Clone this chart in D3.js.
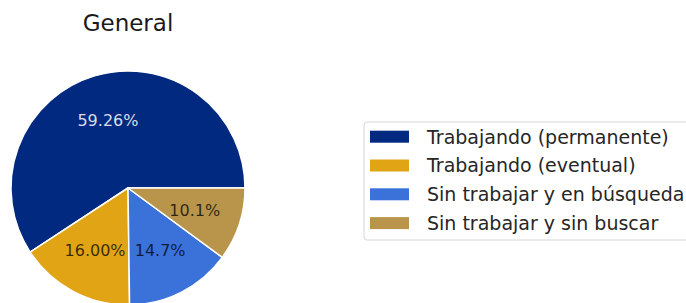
<!DOCTYPE html>
<html>
<head>
<meta charset="utf-8">
<script src="https://cdn.jsdelivr.net/npm/d3@7"></script>
<style>
  body { margin: 0; background: #fff; }
  text { font-family: "DejaVu Sans", sans-serif; }
</style>
</head>
<body>
<svg id="chart"></svg>
<script>
var width = 686,
    height = 303;

var title = "General";
var categories = ["Trabajando (permanente)", "Trabajando (eventual)", "Sin trabajar y en búsqueda", "Sin trabajar y sin buscar"];
var values = [59.26, 16.00, 14.7, 10.1];
var pct_labels = ["59.26%", "16.00%", "14.7%", "10.1%"];
var colors = ["#00297f", "#e0a414", "#3a72da", "#b8954a"];

var cx = 128, cy = 188, radius = 117;

var svg = d3.select("#chart").attr("width", width).attr("height", height);

svg.append("text")
  .attr("x", cx)
  .attr("y", 31)
  .attr("text-anchor", "middle")
  .attr("font-size", "23px")
  .attr("fill", "#1a1a1a")
  .text(title);

// matplotlib style: start at 3 o'clock, go counter-clockwise
var pie = d3.pie()
  .sort(null)
  .startAngle(Math.PI / 2)
  .endAngle(Math.PI / 2 - 2 * Math.PI);

var arcs = pie(values);

var arc = d3.arc().innerRadius(0).outerRadius(radius);
var labelArc = d3.arc().innerRadius(radius * 0.6).outerRadius(radius * 0.6);

var g = svg.append("g").attr("transform", "translate(" + cx + "," + cy + ")");

g.selectAll("path")
  .data(arcs)
  .enter()
  .append("path")
  .attr("d", arc)
  .attr("fill", function(d, i) { return colors[i]; })
  .attr("stroke", "#fff")
  .attr("stroke-width", 1.5)
  .attr("stroke-linejoin", "round");

g.selectAll("text.pct")
  .data(arcs)
  .enter()
  .append("text")
  .attr("class", "pct")
  .attr("transform", function(d) { return "translate(" + labelArc.centroid(d) + ")"; })
  .attr("text-anchor", "middle")
  .attr("dy", "0.36em")
  .attr("font-size", "16px")
  .attr("fill", function(d, i) { return i === 0 ? "#ffffff" : "#000000"; })
  .attr("fill-opacity", function(d, i) { return i === 0 ? 0.85 : 0.75; })
  .text(function(d, i) { return pct_labels[i]; });

// legend
var legend = svg.append("g").attr("transform", "translate(364,122)");

legend.append("rect")
  .attr("x", 0)
  .attr("y", 0)
  .attr("width", 360)
  .attr("height", 118)
  .attr("rx", 3)
  .attr("fill", "#fff")
  .attr("stroke", "#d6d6d6")
  .attr("stroke-width", 1);

var rowY = d3.scaleLinear().domain([0, 1]).range([14.7, 14.7 + 28.8]);

var rows = legend.selectAll("g.row")
  .data(categories)
  .enter()
  .append("g")
  .attr("class", "row")
  .attr("transform", function(d, i) { return "translate(0," + rowY(i) + ")"; });

rows.append("rect")
  .attr("x", 6)
  .attr("y", -6)
  .attr("width", 39)
  .attr("height", 12)
  .attr("fill", function(d, i) { return colors[i]; });

rows.append("text")
  .attr("x", 63)
  .attr("dy", "0.36em")
  .attr("font-size", "19px")
  .attr("fill", "#262626")
  .text(function(d) { return d; });
</script>
</body>
</html>
